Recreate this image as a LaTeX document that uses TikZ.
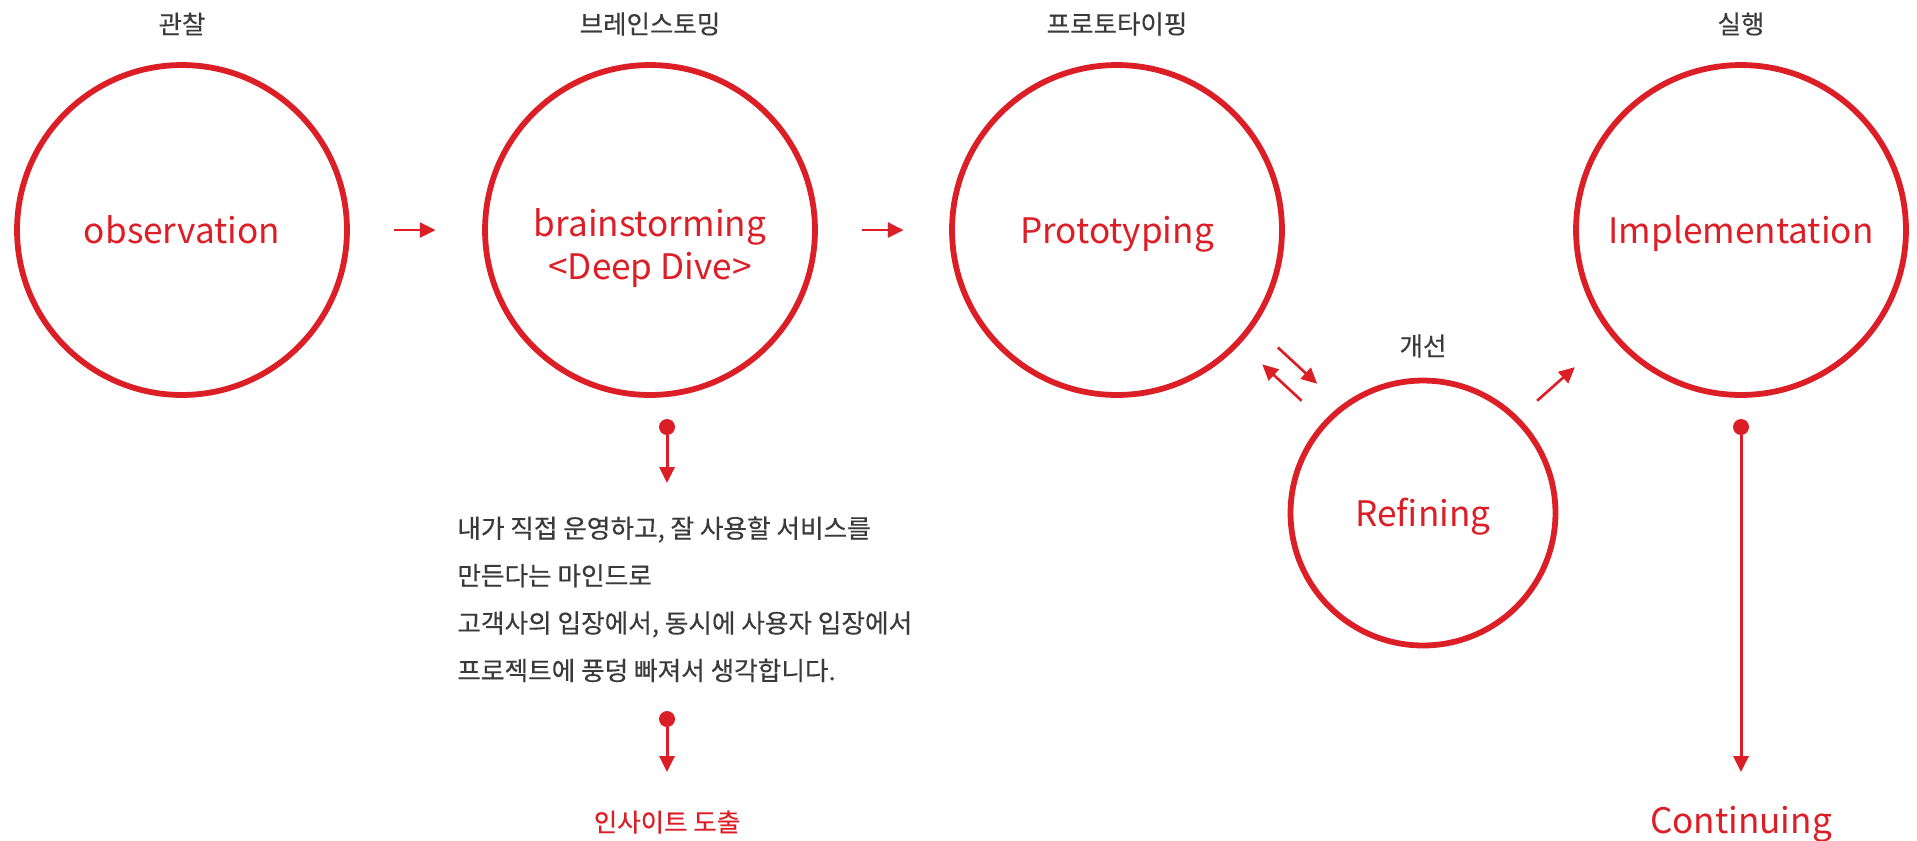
\documentclass[tikz,border=0pt]{standalone}
\usepackage{fontspec}
\setmainfont{Noto Sans CJK KR}
\newfontfamily\krmid[FakeBold=0.35]{Noto Sans CJK KR}
\usetikzlibrary{arrows.meta}
\definecolor{brandred}{HTML}{DC1F26}
\definecolor{textgray}{HTML}{3A3A3A}
\begin{document}
\begin{tikzpicture}[x=0.02cm, y=-0.02cm,
    stage/.style={circle, draw=brandred, line width=3.3pt, minimum size=6.6cm, inner sep=0pt},
    stagetext/.style={text=brandred, inner sep=0pt, font=\fontsize{20}{25}\selectfont, text height=19pt, text depth=4pt},
    title/.style={text=textgray, inner sep=0pt, font=\krmid\fontsize{14.5}{16}\selectfont},
    desc/.style={text=textgray, inner sep=0pt, align=left, font=\krmid\fontsize{14.6}{27}\selectfont},
    arr/.style={draw=brandred, fill=brandred, line width=1.5pt, -{Triangle[length=9pt, width=8.5pt]}},
    dot/.style={circle, fill=brandred, inner sep=0pt, minimum size=0.32cm}]
  \useasboundingbox (0,0) rectangle (1917,840);
  \foreach \n/\x/\t in {obs/182/관찰, brain/650/브레인스토밍, proto/1117/프로토타이핑, impl/1741/실행}
    \node[title] (\n-t) at (\x,24) {\t};
  \node[stage] (obs) at (182,230) {};
  \node[stage] (brain) at (650,230) {};
  \node[stage] (proto) at (1117,230) {};
  \node[stage] (impl) at (1741,230) {};
  \node[stage, minimum size=5.3cm] (refine) at (1423,513) {};
  \node[title] (refine-t) at (1423,346) {개선};
  \node[stagetext] (obs-l) at (obs) {observation};
  \node[stagetext, align=center, text height=, text depth=] (brain-l) at (650,248) {brainstorming\\<Deep Dive>};
  \node[stagetext] (proto-l) at (proto) {Prototyping};
  \node[stagetext] (impl-l) at (impl) {Implementation};
  \node[stagetext] (refine-l) at (refine) {Refining};
  \draw[arr, shorten <=0.89cm, shorten >=0.93cm] (obs) -- (brain);
  \draw[arr, shorten <=0.89cm, shorten >=0.91cm] (brain) -- (proto);
  \draw[arr, shorten <=0.6cm, shorten >=0.6cm] (refine) -- (proto);
  \draw[arr, shorten <=0.6cm, shorten >=0.6cm, transform canvas={shift={(15.6,-16.9)}}] (proto) -- (refine);
  \draw[arr, shorten <=0.49cm, shorten >=0.95cm, transform canvas={shift={(-5.3,-6)}}] (refine) -- (impl);
  \foreach \n/\x/\a/\b in {d1/667/427/483, d2/667/719/772, d3/1741/427/772} {
    \node[dot] (\n) at (\x,\a) {};
    \coordinate (\n-end) at (\x,\b);
    \draw[arr, line width=1.7pt] (\n) -- (\n-end);
  }
  \node[desc, anchor=north west] (desc) at (457,516) {내가 직접 운영하고, 잘 사용할 서비스를\\만든다는 마인드로\\고객사의 입장에서, 동시에 사용자 입장에서\\프로젝트에 풍덩 빠져서 생각합니다.};
  \node[title, text=brandred] (insight) at (667,822) {인사이트 도출};
  \node[stagetext] (cont) at (1741,820) {Continuing};
\end{tikzpicture}
\end{document}
